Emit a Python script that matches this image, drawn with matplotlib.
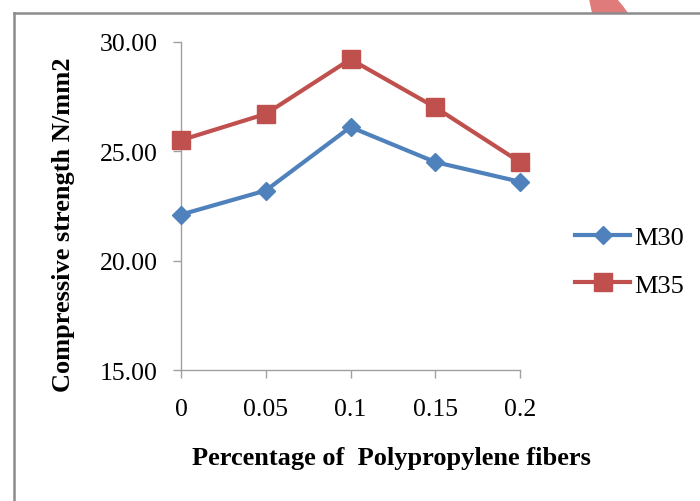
import matplotlib.pyplot as plt
from matplotlib.lines import Line2D
from matplotlib.patches import Polygon

plt.rcParams['font.family'] = ['Liberation Serif', 'DejaVu Serif']

# Fiber content (%) and compressive strength (N/mm2)
fiber_pct = ["0", "0.05", "0.1", "0.15", "0.2"]
m30 = [22.1, 23.2, 26.1, 24.5, 23.6]
m35 = [25.5, 26.7, 29.2, 27.0, 24.5]
y_ticks = [15, 20, 25, 30]

W, H = 700, 502
fig = plt.figure(figsize=(W / 100, H / 100), dpi=100)
ax = fig.add_axes([181 / W, 1 - 371 / H, (520 - 181) / W, (371 - 42.7) / H])

x = range(len(fiber_pct))
ax.plot(x, m30, color="#4F81BD", lw=3, marker="D", ms=9.5, label="M30",
        clip_on=False, zorder=3)
ax.plot(x, m35, color="#C0504D", lw=3, marker="s", ms=13, label="M35",
        clip_on=False, zorder=3)

ax.set_xlim(0, len(fiber_pct) - 1)
ax.set_ylim(15, 30)
ax.set_xticks(list(x))
ax.set_xticklabels(fiber_pct)
ax.set_yticks(y_ticks)
ax.set_yticklabels([f"{v:.2f}" for v in y_ticks])

for side in ["top", "right"]:
    ax.spines[side].set_visible(False)
for side in ["left", "bottom"]:
    ax.spines[side].set_color("#A0A0A0")
    ax.spines[side].set_linewidth(1.0)
ax.tick_params(axis="both", colors="#A0A0A0", labelcolor="black",
               length=6, width=1.0, labelsize=18.5)
ax.tick_params(axis="x", pad=14)
ax.tick_params(axis="y", pad=11)

# axis titles
fig.text(391 / W, 1 - 459 / H, "Percentage of  Polypropylene fibers",
         ha="center", va="center", fontsize=19, fontweight="bold")
fig.text(64 / W, 1 - 225 / H, "Compressive strength N/mm2",
         ha="center", va="center", rotation=90, fontsize=19, fontweight="bold")

fig.legend(loc="upper left", bbox_to_anchor=(575 / W, 1 - 227 / H),
           frameon=False, fontsize=19, handlelength=2.1, handletextpad=0.15,
           labelspacing=0.9, borderpad=0, borderaxespad=0)

# page frame and the red shape overlapping its top edge
fig.add_artist(Polygon([(589 / W, 1.0), (617 / W, 1.0), (623 / W, 1 - 7 / H),
                        (628 / W, 1 - 14 / H), (592 / W, 1 - 14 / H)],
                       closed=True, transform=fig.transFigure,
                       facecolor="#E07B7B", edgecolor="none"))
fig.add_artist(Line2D([13.5 / W, 13.5 / W], [0, 1 - 14 / H],
                      transform=fig.transFigure, color="#8C8C8C", lw=1.8))
fig.add_artist(Line2D([13.5 / W, 1], [1 - 14 / H, 1 - 14 / H],
                      transform=fig.transFigure, color="#8C8C8C", lw=1.8))

fig.savefig("out.png", dpi=100)
